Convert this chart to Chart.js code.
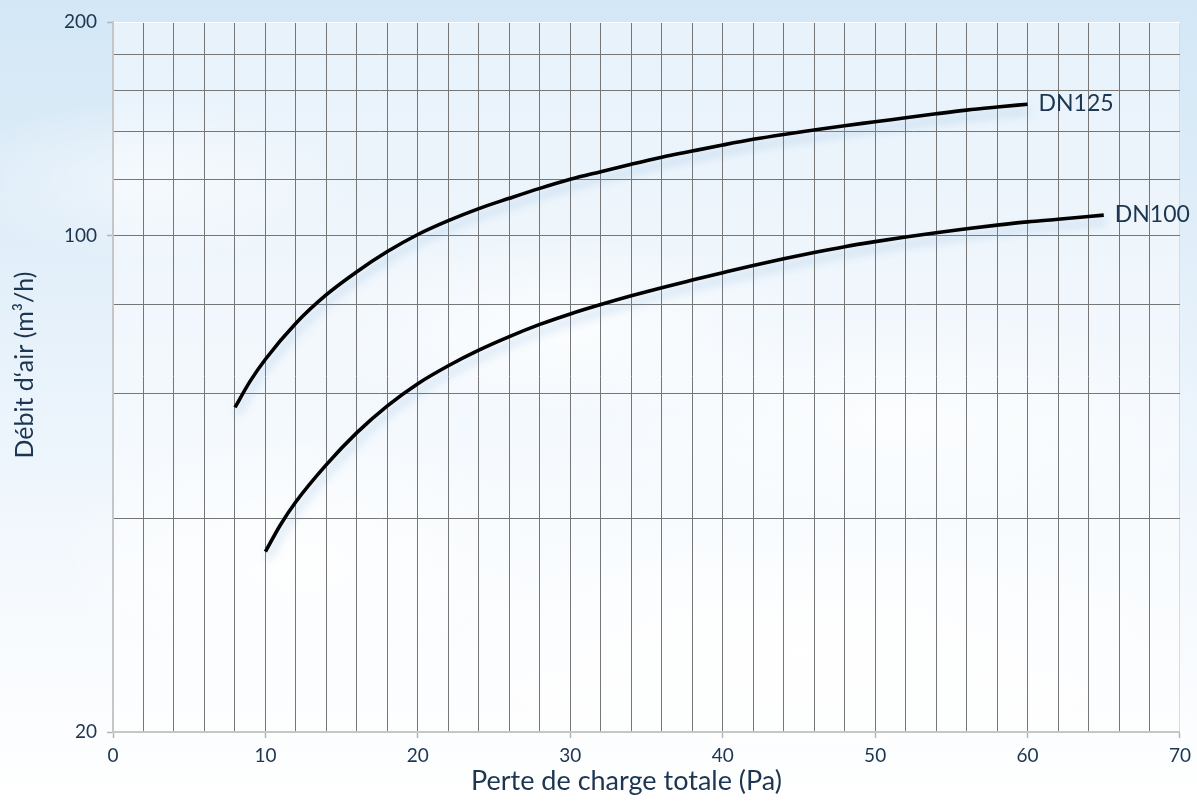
<!DOCTYPE html>
<html>
<head>
<meta charset="utf-8">
<script src="https://cdn.jsdelivr.net/npm/chart.js@4"></script>
<style>
  html, body { margin: 0; padding: 0; }
  body {
    width: 1197px; height: 809px; overflow: hidden;
    background:
      radial-gradient(ellipse 260px 90px at 560px 330px, rgba(255,255,255,0.75), rgba(255,255,255,0)),
      radial-gradient(ellipse 320px 110px at 900px 420px, rgba(255,255,255,0.7), rgba(255,255,255,0)),
      radial-gradient(ellipse 250px 120px at 300px 560px, rgba(255,255,255,0.8), rgba(255,255,255,0)),
      radial-gradient(ellipse 400px 140px at 800px 650px, rgba(255,255,255,0.9), rgba(255,255,255,0)),
      radial-gradient(ellipse 200px 80px at 150px 180px, rgba(255,255,255,0.5), rgba(255,255,255,0)),
      linear-gradient(180deg, #d3e7f6 0%, #e1eef9 30%, #edf5fc 55%, #f8fbfe 80%, #ffffff 100%);
  }
  #wrap { position: absolute; left: 0; top: 0; width: 1197px; height: 809px; }
</style>
</head>
<body>
<div id="wrap"><canvas id="c" width="1197" height="809"></canvas></div>
<script>
// ---- Data ----
const dn125X = [8, 9, 10, 12, 14, 16, 18, 20, 22, 24, 26, 28, 30, 32, 34, 36, 38, 40, 42, 44, 46, 48, 50, 52, 54, 56, 58, 60];
const dn125Y = [57.3, 62.4, 67.0, 75.3, 82.6, 89.0, 95.0, 100.4, 105.0, 109.2, 112.9, 116.6, 120.1, 123.1, 126.1, 129.0, 131.6, 134.2, 136.7, 138.9, 140.9, 142.9, 144.7, 146.6, 148.5, 150.3, 151.8, 153.2];
const dn100X = [10, 11, 12, 14, 16, 18, 20, 22, 24, 26, 28, 30, 32, 34, 36, 38, 40, 42, 44, 46, 48, 50, 52, 54, 56, 58, 60, 62, 65];
const dn100Y = [35.9, 39.2, 42.2, 47.6, 52.8, 57.6, 61.9, 65.6, 69.0, 72.1, 75.0, 77.6, 80.0, 82.3, 84.5, 86.6, 88.7, 90.8, 92.8, 94.7, 96.5, 98.1, 99.6, 101.0, 102.3, 103.5, 104.6, 105.5, 106.9];
const seriesNames = ['DN125', 'DN100'];
const yGridValues = [20, 40, 60, 80, 100, 120, 140, 160, 180, 200];
const yTickLabels = [20, 100, 200];
const xMin = 0, xMax = 70, xStep = 2, xLabelEvery = 10;
const xTitle = 'Perte de charge totale (Pa)';
const yTitle = 'Débit d\u2018air (m\u00B3/h)';

const textColor = '#1c3550';
const fontFamily = 'Lato, "Noto Sans", sans-serif';

const toPts = (xs, ys) => xs.map((x, i) => ({ x: x, y: ys[i] }));

const areaPlugin = {
  id: 'area',
  beforeDraw(chart) {
    const { ctx, chartArea: a } = chart;
    ctx.save();
    ctx.fillStyle = 'rgba(255,255,255,0.45)';
    ctx.fillRect(a.left, a.top, a.right - a.left, a.bottom - a.top);
    ctx.restore();
  }
};

const shadowPlugin = {
  id: 'lineShadow',
  beforeDatasetDraw(chart) {
    const ctx = chart.ctx;
    ctx.save();
    ctx.shadowColor = 'rgba(110,165,215,0.45)';
    ctx.shadowBlur = 10;
    ctx.shadowOffsetX = 2;
    ctx.shadowOffsetY = 7;
  },
  afterDatasetDraw(chart) {
    chart.ctx.restore();
  }
};

const endLabelPlugin = {
  id: 'endLabels',
  afterDatasetsDraw(chart) {
    const ctx = chart.ctx;
    ctx.save();
    ctx.font = '23px ' + fontFamily;
    ctx.fillStyle = textColor;
    ctx.textAlign = 'left';
    ctx.textBaseline = 'middle';
    chart.data.datasets.forEach((ds, i) => {
      const meta = chart.getDatasetMeta(i);
      const last = meta.data[meta.data.length - 1];
      ctx.fillText(ds.label, last.x + 11, last.y - 1);
    });
    ctx.restore();
  }
};

// Axis titles (placed as in the reference, slightly off-centre)
const titlePlugin = {
  id: 'axisTitles',
  afterDraw(chart) {
    const { ctx, chartArea: a } = chart;
    ctx.save();
    ctx.fillStyle = textColor;
    ctx.textAlign = 'center';
    ctx.textBaseline = 'middle';
    ctx.font = '27px ' + fontFamily;
    ctx.fillText(xTitle, (a.left + a.right) / 2 - 20, 781);
    ctx.translate(25, (a.top + a.bottom) / 2 - 12);
    ctx.rotate(-Math.PI / 2);
    ctx.font = '25px ' + fontFamily;
    ctx.fillText(yTitle, 0, 0);
    ctx.restore();
  }
};

new Chart(document.getElementById('c'), {
  type: 'line',
  data: {
    datasets: [
      { label: seriesNames[0], data: toPts(dn125X, dn125Y) },
      { label: seriesNames[1], data: toPts(dn100X, dn100Y) }
    ]
  },
  options: {
    responsive: false,
    animation: false,
    devicePixelRatio: 1,
    layout: { padding: { top: 22, right: 16, left: 0, bottom: 0 } },
    elements: {
      line: { borderColor: '#000', borderWidth: 3.6, cubicInterpolationMode: 'monotone', borderCapStyle: 'butt' },
      point: { radius: 0, hoverRadius: 0 }
    },
    plugins: { legend: { display: false }, tooltip: { enabled: false } },
    scales: {
      x: {
        type: 'linear', min: xMin, max: xMax,
        afterFit(s) { s.height = 77; },
        ticks: {
          stepSize: xStep, autoSkip: false, maxRotation: 0, padding: 6,
          color: textColor, font: { family: fontFamily, size: 19 },
          callback: (v) => (v % xLabelEvery === 0 ? String(v) : '')
        },
        grid: {
          lineWidth: 1, tickLength: 6, tickWidth: 1.5,
          color: (c) => (c.tick && c.tick.value === xMax ? '#dadada' : (c.tick && c.tick.value === xMin ? 'rgba(0,0,0,0)' : '#767676')),
          tickColor: (c) => (c.tick && c.tick.value % xLabelEvery === 0 ? '#b5b5b5' : 'rgba(0,0,0,0)')
        },
        border: { color: '#c6c6c6', width: 2 },
        title: { display: false, text: xTitle }
      },
      y: {
        type: 'logarithmic', min: 20, max: 200,
        afterFit(s) { s.width = 113; },
        afterBuildTicks(s) { s.ticks = yGridValues.map(v => ({ value: v })); },
        ticks: {
          autoSkip: false, padding: 10,
          color: textColor, font: { family: fontFamily, size: 19 },
          callback: (v) => (yTickLabels.includes(v) ? String(v) : '')
        },
        grid: {
          lineWidth: 1, tickLength: 6, tickWidth: 1.5,
          color: (c) => (c.tick && c.tick.value === 200 ? 'rgba(255,255,255,0.95)' : (c.tick && c.tick.value === 20 ? 'rgba(0,0,0,0)' : '#767676')),
          tickColor: (c) => (c.tick && yTickLabels.includes(c.tick.value) ? '#b5b5b5' : 'rgba(0,0,0,0)')
        },
        border: { color: '#c6c6c6', width: 2 },
        title: { display: false, text: yTitle }
      }
    }
  },
  plugins: [areaPlugin, shadowPlugin, endLabelPlugin, titlePlugin]
});
</script>
</body>
</html>
